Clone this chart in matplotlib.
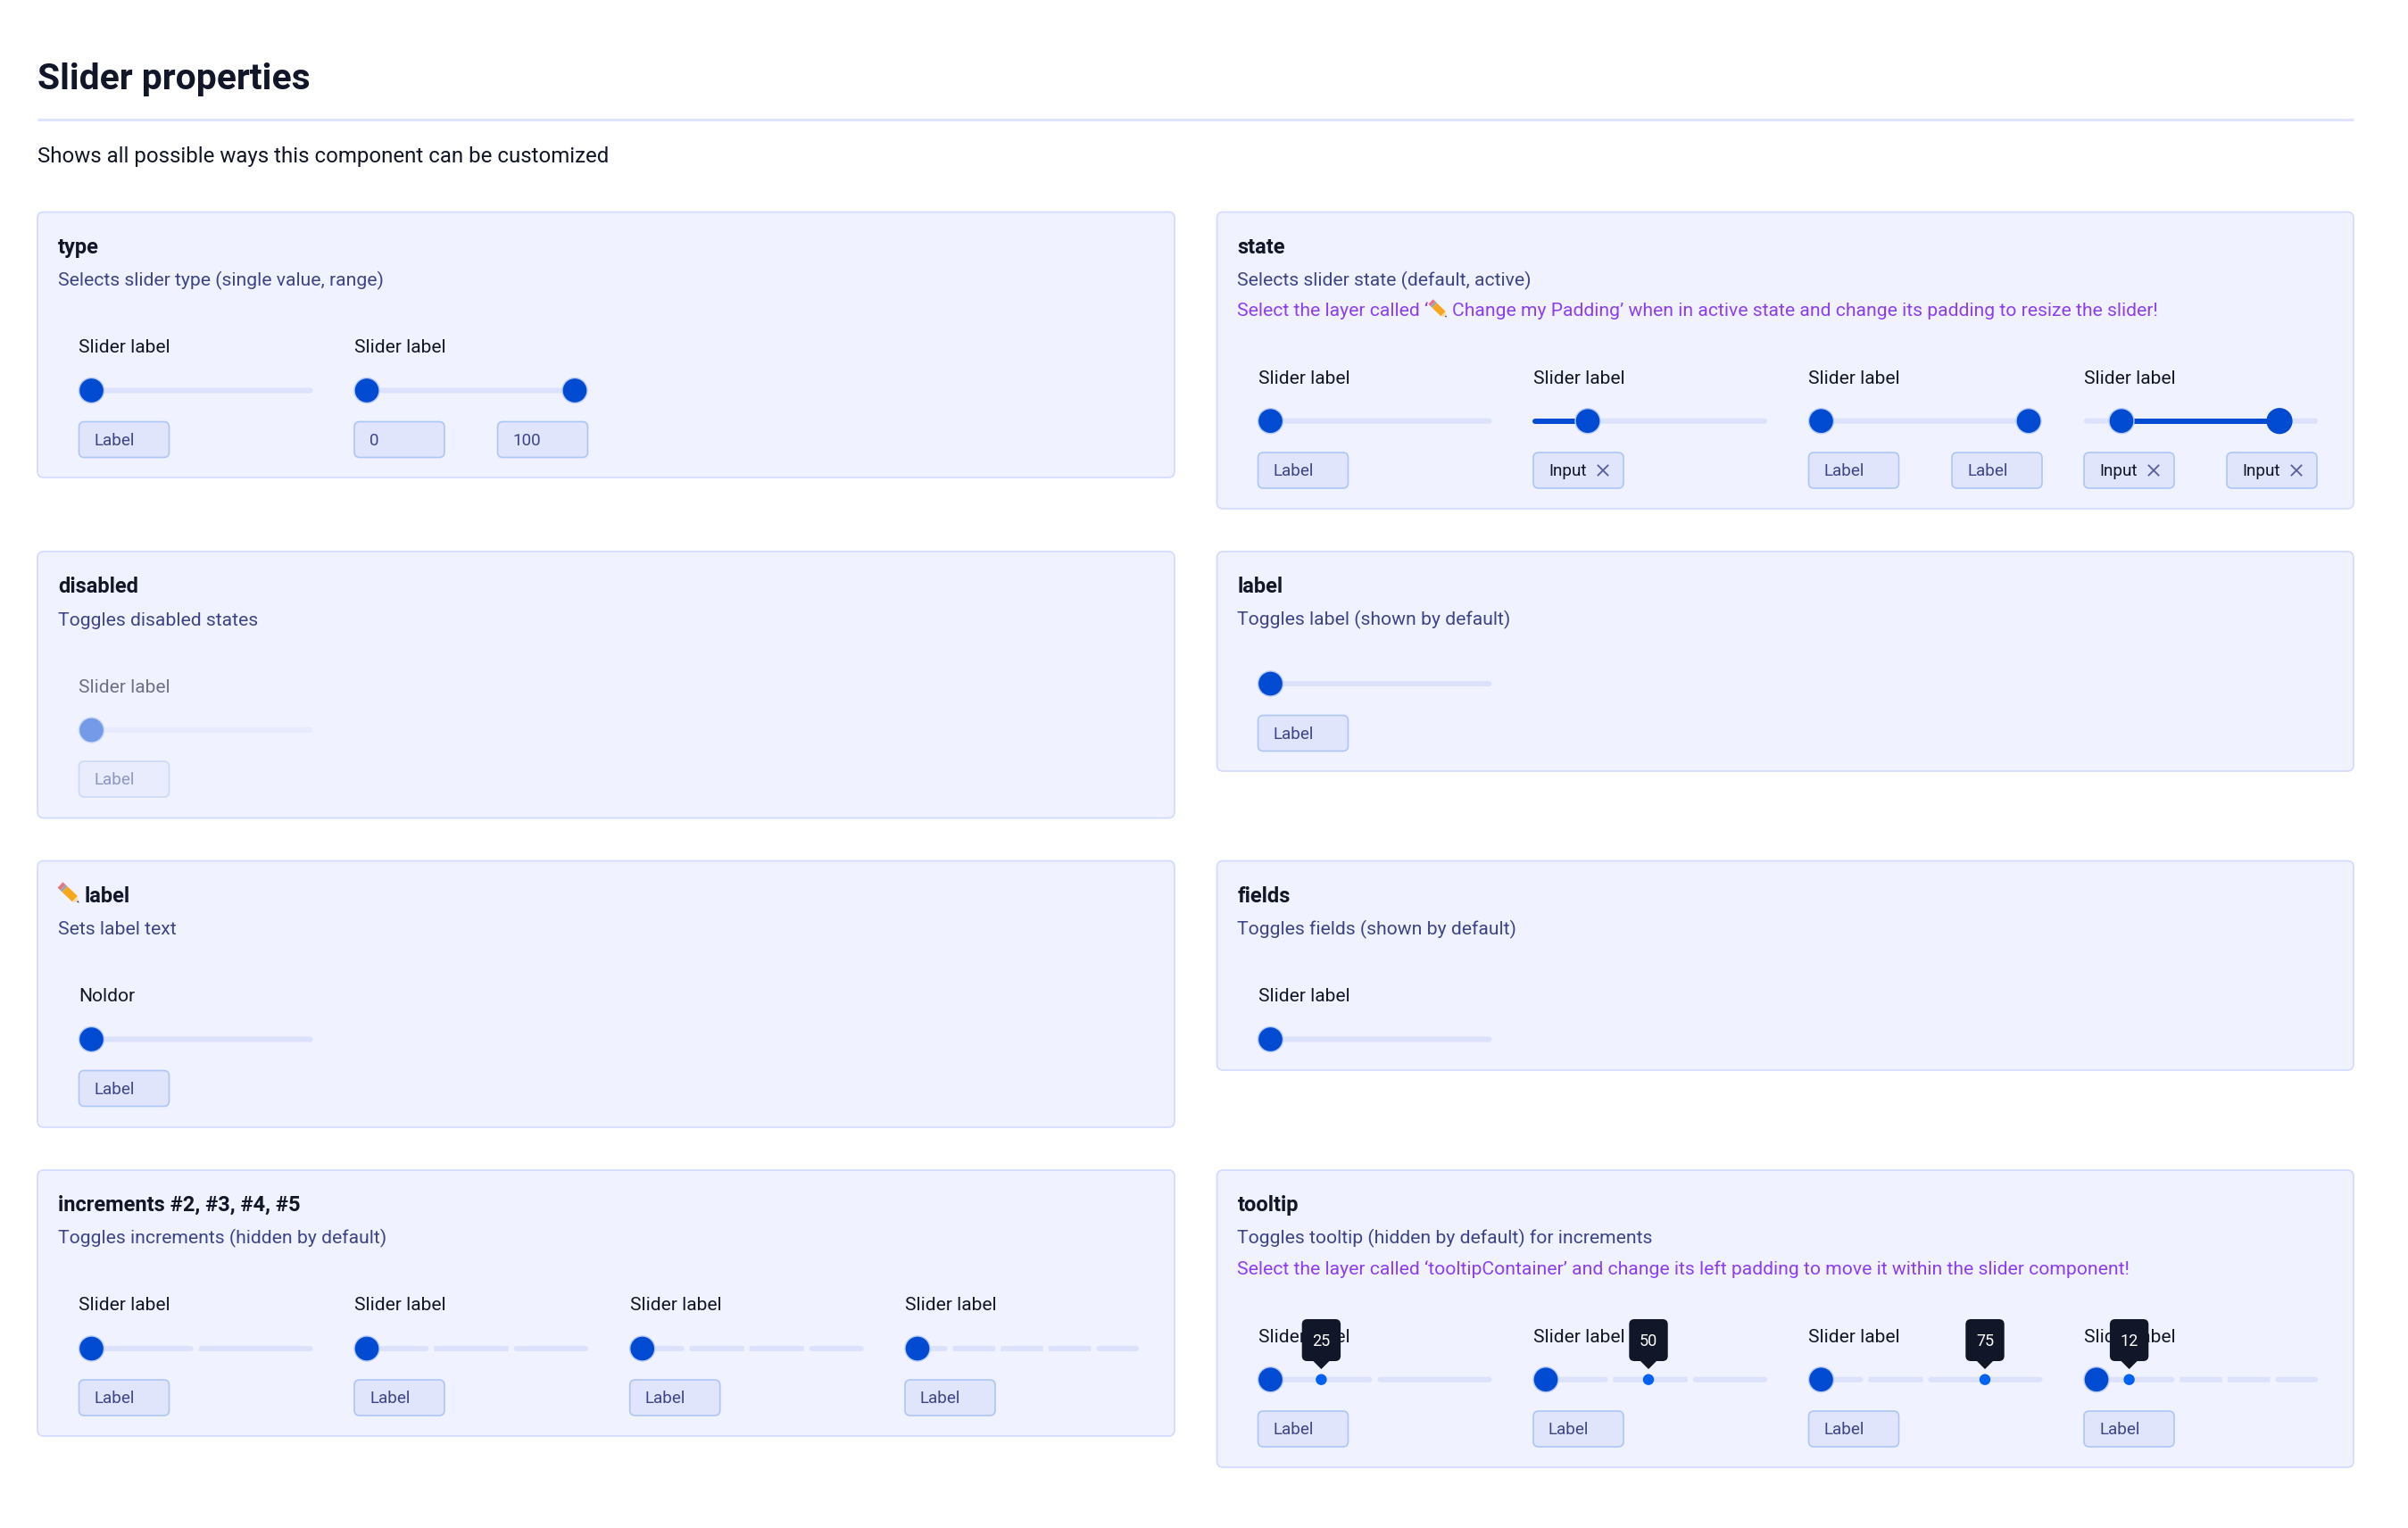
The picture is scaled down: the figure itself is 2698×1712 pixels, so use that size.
import matplotlib
matplotlib.use("Agg")
import matplotlib.pyplot as plt
from matplotlib.patches import FancyBboxPatch, Circle, Polygon

plt.rcParams["font.family"] = ["Roboto", "DejaVu Sans"]

# Texts
page_title = "Slider properties"
page_sub = "Shows all possible ways this component can be customized"
slider_label = "Slider label"
left_titles = ["type", "disabled", "label", "increments #2, #3, #4, #5"]
left_descs = ["Selects slider type (single value, range)", "Toggles disabled states",
              "Sets label text", "Toggles increments (hidden by default)"]
right_titles = ["state", "label", "fields", "tooltip"]
right_descs = ["Selects slider state (default, active)", "Toggles label (shown by default)",
               "Toggles fields (shown by default)", "Toggles tooltip (hidden by default) for increments"]
state_note_a = "Select the layer called ‘"
state_note_b = "Change my Padding’ when in active state and change its padding to resize the slider!"
tooltip_note = "Select the layer called ‘tooltipContainer’ and change its left padding to move it within the slider component!"
tooltip_values = ["25", "50", "75", "12"]
increment_parts = [[1, 1], [1, 1, 1], [1, 1, 1, 1], [1, 1, 1, 1, 1]]
tooltip_parts = [[1, 1], [1, 1, 1], [1, 1, 2], [2, 1, 1, 1]]

# Layout, in image pixels
W, H = 2698, 1712
row_tops = [237.5, 618, 964.5, 1311]
left_bottoms = [535, 916.5, 1263, 1609]
right_bottoms = [570, 864, 1199, 1644]
left_x = (42, 1316)
right_x = (1363.5, 2637)
left_cols = [88.5, 397, 705.7, 1014]
right_cols = [1409.5, 1718, 2026.5, 2335]
slider_w = 262
box_w = 101
box_h = 40

# Colours
INK = "#111628"
DESC = "#3D4588"
PURPLE = "#8B3FF5"
PANEL = "#F0F2FF"
PANEL_EDGE = "#D3DBFF"
TRACK = "#DDE2FC"
THUMB = "#004BD1"
HALO = "#B5CBF6"
BOX = "#E0E5FC"
BOX_EDGE = "#ADC6F7"
DOT = "#0062F5"

fig = plt.figure(figsize=(W / 100, H / 100), dpi=100, facecolor="white")
ax = fig.add_axes([0, 0, 1, 1])
ax.set_xlim(0, W)
ax.set_ylim(H, 0)
ax.axis("off")


def rrect(x0, y0, x1, y1, r, fc, ec="none", lw=0.0, z=2):
    ax.add_patch(FancyBboxPatch((x0, y0), x1 - x0, y1 - y0,
                                boxstyle=f"round,pad=0,rounding_size={r}",
                                fc=fc, ec=ec, lw=lw, zorder=z))


def txt(x, y, s, size, color=INK, weight="normal", ha="left", z=6):
    return ax.text(x, y, s, fontsize=size, color=color, fontweight=weight,
                   ha=ha, va="baseline", zorder=z)


def thumb(x, y, fc=THUMB, halo=HALO, r=14.0):
    ax.add_patch(Circle((x, y), r, fc=fc, ec=halo, lw=1.0, zorder=4))


def track(x, y, parts=None, color=TRACK):
    # parts = relative widths of the increment segments
    parts = parts or [1]
    gap = 6
    unit = (slider_w - gap * (sum(parts) - 1)) / sum(parts)
    cur = x
    for i, p in enumerate(parts):
        w = unit * p + gap * (p - 1)
        first, last = i == 0, i == len(parts) - 1
        rrect(cur, y - 3, cur + w, y + 3, 3 if first or last else 0.5, color, z=3)
        cur += w + gap


def box(x, y, s="Label", fc=BOX, ec=BOX_EDGE, tc=DESC, closable=False):
    rrect(x, y, x + box_w, y + box_h, 6, fc, ec, 1.2, z=3)
    if closable:
        txt(x + 17.0, y + 26, s, 13.6, INK)
        cx, cy = x + 78, y + 20
        ax.plot([cx - 5.5, cx + 5.5], [cy - 5.5, cy + 5.5], color="#565C9E", lw=1.3, zorder=6)
        ax.plot([cx - 5.5, cx + 5.5], [cy + 5.5, cy - 5.5], color="#565C9E", lw=1.3, zorder=6)
    else:
        txt(x + 17.0, y + 26, s, 13.6, tc)


def panel(x, top, bottom, title, desc, title_x=None):
    rrect(x[0], top, x[1], bottom, 7, PANEL, PANEL_EDGE, 1.25, z=1)
    txt(title_x or x[0] + 23, top + 46, title, 17.0, INK, "bold")
    txt(x[0] + 23, top + 82.5, desc, 15.2, DESC)


def pencil(x0, y0, x1, y1):
    # small pencil icon, eraser at (x0, y0) and tip at (x1, y1)
    dx, dy = x1 - x0, y1 - y0
    ln = (dx ** 2 + dy ** 2) ** 0.5
    hw = ln * 0.15
    nx, ny = -dy / ln * hw, dx / ln * hw

    def seg(a, b, w0=1.0, w1=1.0):
        ax_, ay_ = x0 + dx * a, y0 + dy * a
        bx_, by_ = x0 + dx * b, y0 + dy * b
        return [(ax_ + nx * w0, ay_ + ny * w0), (bx_ + nx * w1, by_ + ny * w1),
                (bx_ - nx * w1, by_ - ny * w1), (ax_ - nx * w0, ay_ - ny * w0)]

    for pts, col in [(seg(0, 0.14), "#E5757F"), (seg(0.14, 0.24), "#9AA3AD"),
                     (seg(0.24, 0.78), "#F6A81C"), (seg(0.78, 0.92, 1, 0.25), "#F6DBA8"),
                     (seg(0.92, 1, 0.25, 0.02), "#2B2B33")]:
        ax.add_patch(Polygon(pts, closed=True, fc=col, ec="none", zorder=6))


def tooltip(x, value, y_top=1478, y_bot=1525, tip=1534, track_y=1545.7):
    rrect(x - 21.7, y_top, x + 21.7, y_bot, 6, INK, z=7)
    ax.add_patch(Polygon([(x - 10, y_bot - 1), (x + 10, y_bot - 1), (x, tip)], closed=True,
                         fc=INK, ec="none", zorder=7))
    txt(x, y_top + 30, value, 13.0, "white", ha="center", z=8)
    ax.add_patch(Circle((x, track_y), 6.2, fc=DOT, ec="none", zorder=5))


# Page header
txt(42, 100, page_title, 29.3, INK, "bold")
ax.plot([42, 2637], [133.8, 133.8], color="#DFE3FC", lw=2.2, solid_capstyle="butt", zorder=1)
txt(42, 182, page_sub, 17.3, INK)

# Panels
panel(left_x, row_tops[0], left_bottoms[0], left_titles[0], left_descs[0])
panel(left_x, row_tops[1], left_bottoms[1], left_titles[1], left_descs[1])
panel(left_x, row_tops[2], left_bottoms[2], left_titles[2], left_descs[2], title_x=95)
panel(left_x, row_tops[3], left_bottoms[3], left_titles[3], left_descs[3])
for i in range(4):
    panel(right_x, row_tops[i], right_bottoms[i], right_titles[i], right_descs[i])
pencil(67.5, 991.5, 88.5, 1011.5)

# type
t = row_tops[0]
txt(left_cols[0], t + 157.5, slider_label, 15.1)
track(left_cols[0], t + 200)
thumb(left_cols[0] + 14, t + 200)
box(left_cols[0], t + 235)
txt(left_cols[1], t + 157.5, slider_label, 15.1)
track(left_cols[1], t + 200)
thumb(left_cols[1] + 14, t + 200)
thumb(left_cols[1] + 247, t + 200)
box(left_cols[1], t + 235, "0")
box(left_cols[1] + 160.5, t + 235, "100")

# disabled
t = row_tops[1]
txt(left_cols[0], t + 157.5, slider_label, 15.1, "#6E7187")
track(left_cols[0], t + 200, color="#E8EBFD")
thumb(left_cols[0] + 14, t + 200, "#759BE8", "#C8D8FA")
box(left_cols[0], t + 235, fc="#E8ECFD", ec="#CBDAFA", tc="#8F96C6")

# pencil label
t = row_tops[2]
txt(left_cols[0], t + 157.5, "Noldor", 15.1)
track(left_cols[0], t + 200)
thumb(left_cols[0] + 14, t + 200)
box(left_cols[0], t + 235)

# increments
t = row_tops[3]
for cx, parts in zip(left_cols, increment_parts):
    txt(cx, t + 157.5, slider_label, 15.1)
    track(cx, t + 200, parts)
    thumb(cx + 14, t + 200)
    box(cx, t + 235)

# state
txt(1386.5, 353.5, state_note_a, 15.2, PURPLE)
pencil(1603, 338, 1621, 355.5)
txt(1627, 353.5, state_note_b, 15.2, PURPLE)
y = 471.7
for cx in right_cols:
    txt(cx, 429.5, slider_label, 15.1)
    track(cx, y)
    box_label = "Input" if cx in (right_cols[1], right_cols[3]) else "Label"
    box(cx, 507, box_label, closable=box_label == "Input")
ax.plot([right_cols[1] + 2, 1779], [y, y], color=THUMB, lw=4.3, solid_capstyle="round", zorder=3.5)
thumb(1779, y)
thumb(right_cols[0] + 14, y)
thumb(right_cols[2] + 14, y)
thumb(2273, y)
box(2187, 507, "Label")
ax.plot([2377, 2554], [y, y], color=THUMB, lw=4.3, solid_capstyle="butt", zorder=3.5)
thumb(2377, y)
ax.add_patch(Circle((2554, y), 14.6, fc=THUMB, ec="none", zorder=4))
box(right_cols[3] + 160, 507, "Input", closable=True)

# label (no text above the slider here)
t = row_tops[1]
track(right_cols[0], t + 148)
thumb(right_cols[0] + 14, t + 148)
box(right_cols[0], t + 183.5)

# fields
t = row_tops[2]
txt(right_cols[0], t + 157.5, slider_label, 15.1)
track(right_cols[0], t + 200)
thumb(right_cols[0] + 14, t + 200)

# tooltip
txt(1386.5, 1428, tooltip_note, 15.2, PURPLE)
y = 1545.7
tip_x = [1480.4, 1847, 2224, 2385.6]
for cx, parts, val, tx in zip(right_cols, tooltip_parts, tooltip_values, tip_x):
    txt(cx, 1503.5, slider_label, 15.1)
    track(cx, y, parts)
    thumb(cx + 14, y)
    box(cx, 1581)
    tooltip(tx, val)

fig.savefig("out.png", dpi=100, facecolor="white")
